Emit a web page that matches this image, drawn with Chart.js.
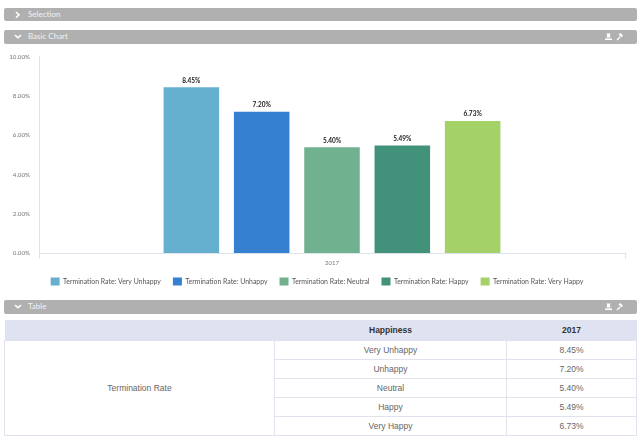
<!DOCTYPE html>
<html><head><meta charset="utf-8">
<script src="https://cdn.jsdelivr.net/npm/chart.js@4"></script>
<style>
html,body{margin:0;padding:0;background:#fff;width:642px;height:440px;overflow:hidden;font-family:"Liberation Sans",sans-serif}
.bar{position:absolute;left:4px;width:632.5px;height:13.5px;background:#b0b0b0;border-radius:2px;color:#f2f2f2;font:8px/12.5px "Lato",sans-serif}
.bar span{position:absolute;left:24px;top:0}
.bar svg{position:absolute;top:0;left:0;width:632px;height:13.5px}
#wrap{position:absolute;left:0;top:44px;width:642px;height:253px}
table{position:absolute;left:4px;top:320px;width:632px;border-collapse:collapse;table-layout:fixed;font-size:8.5px;color:#666;text-align:center}
th{background:#dfe2f0;color:#333;height:20px;padding:0;font-size:8.5px;font-weight:bold;border:0}
td{border:1px solid #e0e3ee;height:18px;padding:0}
</style></head><body>
<div class="bar" style="top:7.5px"><svg viewBox="0 0 632 13.5"><path d="M12 4l3 2.8-3 2.8" fill="none" stroke="#fff" stroke-width="1.6"/></svg><span>Selection</span></div>
<div class="bar" style="top:30px"><svg viewBox="0 0 632 13.5"><path d="M11 5.2l3 2.6 3-2.6" fill="none" stroke="#fff" stroke-width="1.6"/><path d="M601 10h7v-1.5h-7zM602.5 7.5h4l-.6-2 .6-2h-4l.6 2z" fill="#fff"/><path d="M613 10l3-3M615 4l3 3M616 3.5l2.5 2.5" stroke="#fff" stroke-width="1.3" fill="none"/></svg><span>Basic Chart</span></div>
<div class="bar" style="top:300px"><svg viewBox="0 0 632 13.5"><path d="M11 5.2l3 2.6 3-2.6" fill="none" stroke="#fff" stroke-width="1.6"/><path d="M601 10h7v-1.5h-7zM602.5 7.5h4l-.6-2 .6-2h-4l.6 2z" fill="#fff"/><path d="M613 10l3-3M615 4l3 3M616 3.5l2.5 2.5" stroke="#fff" stroke-width="1.3" fill="none"/></svg><span>Table</span></div>
<div id="wrap"><canvas id="c"></canvas></div>
<table id="t"></table>
<script>
const categories = ["2017"];
const happiness = ["Very Unhappy","Unhappy","Neutral","Happy","Very Happy"];
const rates = [8.45,7.20,5.40,5.49,6.73];
const colors = ["#66b0cf","#3680d2","#70b290","#42917a","#a5d169"];
const yTicks = [0,2,4,6,8,10];
const seriesPrefix = "Termination Rate";
const fmt = v => v.toFixed(2) + "%";

const labelPlugin = {id:"barLabels",
 afterLayout(chart){ const l = chart.legend; l.top -= 1.5; l.left += 4.5; l.right += 4.5; },
 afterDatasetsDraw(chart){
  const ctx = chart.ctx; ctx.save();
  ctx.font = 'bold 6.5px "Lato",sans-serif'; ctx.fillStyle = "#222";
  ctx.textAlign = "center"; ctx.textBaseline = "bottom";
  chart.data.datasets.forEach((d,i)=>{
    const el = chart.getDatasetMeta(i).data[0];
    ctx.fillText(fmt(d.data[0]), el.x, el.y - 3.5);
  });
  ctx.restore();
}};

new Chart(document.getElementById("c"),{
  type:"bar",
  data:{labels:categories,datasets:happiness.map((h,i)=>({
    label:seriesPrefix+": "+h,data:[rates[i]],backgroundColor:colors[i],
    categoryPercentage:0.6,barPercentage:0.79}))},
  options:{responsive:true,maintainAspectRatio:false,animation:false,
    devicePixelRatio:1,
    layout:{padding:{top:12,right:17,left:0,bottom:0}},
    plugins:{tooltip:{enabled:false},
      legend:{position:"bottom",labels:{boxWidth:9,boxHeight:8,padding:12,color:"#555",
        font:{family:"Lato",size:6.9}}}},
    scales:{
      x:{afterFit(s){s.height=13.5;},grid:{drawOnChartArea:false,color:"#dde3ea",tickLength:5},border:{color:"#dde3ea"},
        ticks:{color:"#777",font:{family:"Lato",size:6},padding:1}},
      y:{min:0,max:10,afterFit(s){s.width=39;},
        afterBuildTicks(s){s.ticks=yTicks.map(v=>({value:v}));},
        grid:{drawOnChartArea:false,drawTicks:false},border:{color:"#dde3ea"},
        ticks:{color:"#777",padding:9,font:{family:"Lato",size:6.2},callback:v=>fmt(v)}}
    }},
  plugins:[labelPlugin]
});

const t = document.getElementById("t");
let html = '<colgroup><col style="width:270px"><col style="width:232px"><col style="width:130px"></colgroup>';
html += '<tr><th></th><th>Happiness</th><th>'+categories[0]+'</th></tr>';
happiness.forEach((h,i)=>{
  html += '<tr>'+(i===0?'<td rowspan="5">'+seriesPrefix+'</td>':'')+'<td>'+h+'</td><td>'+fmt(rates[i])+'</td></tr>';
});
t.innerHTML = html;
</script>
</body></html>
